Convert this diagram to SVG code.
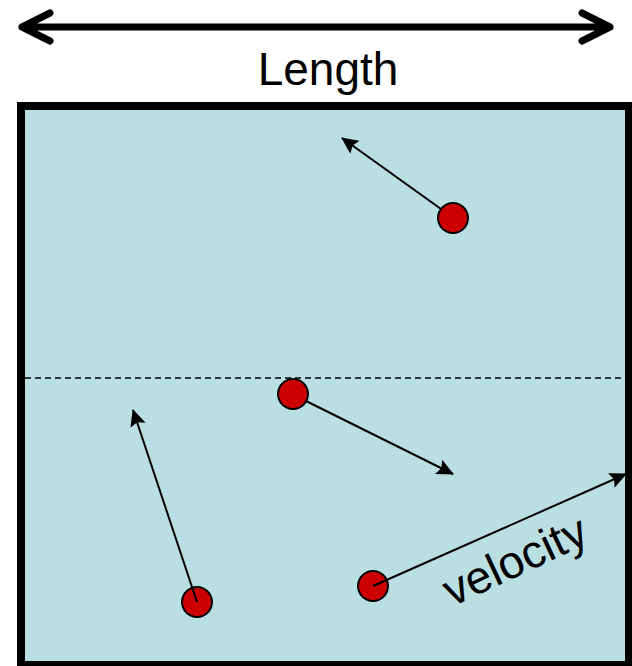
<svg xmlns="http://www.w3.org/2000/svg" width="632" height="666" viewBox="0 0 632 666">
<style>
.ball{fill:#CC0000;stroke:#000;stroke-width:2}
.vel{stroke:#000;stroke-width:2;fill:none;marker-end:url(#ah)}
.lbl{font-family:"Liberation Sans",Arial,sans-serif;fill:#000}
</style>
<defs>
<marker id="ah" markerUnits="userSpaceOnUse" markerWidth="18" markerHeight="16" refX="16" refY="8" orient="auto">
<path d="M0,0 L17,8 L0,16 L3,8 Z" fill="#000"/>
</marker>
</defs>
<g id="length-arrow">
<path d="M22,27 L610,27 M50,13 L22,27 L50,41 M582,13 L610,27 L582,41" stroke="#000" stroke-width="7" fill="none" stroke-linecap="round" stroke-linejoin="round"/>
<text class="lbl" x="328" y="85" font-size="46" text-anchor="middle">Length</text>
</g>
<g id="box">
<rect x="21" y="106" width="608" height="559" fill="#BADFE3" stroke="#000" stroke-width="8"/>
<line x1="25" y1="378" x2="625" y2="378" stroke="#000" stroke-width="1.5" stroke-dasharray="6,4"/>
</g>
<g id="ball1"><circle class="ball" cx="453" cy="218" r="15"/></g>
<g id="ball2"><circle class="ball" cx="293" cy="394" r="15"/></g>
<g id="ball3"><circle class="ball" cx="197" cy="602" r="15"/></g>
<g id="ball4"><circle class="ball" cx="373" cy="586" r="15"/></g>
<g id="connectors">
<line class="vel" x1="441" y1="209" x2="342" y2="138"/>
<line class="vel" x1="306" y1="401" x2="453" y2="474"/>
<line class="vel" x1="197" y1="602" x2="133" y2="410"/>
<line class="vel" x1="373" y1="586" x2="626" y2="474"/>
</g>
<text class="lbl" font-size="46" transform="translate(452,607) rotate(-25)">velocity</text>
</svg>
